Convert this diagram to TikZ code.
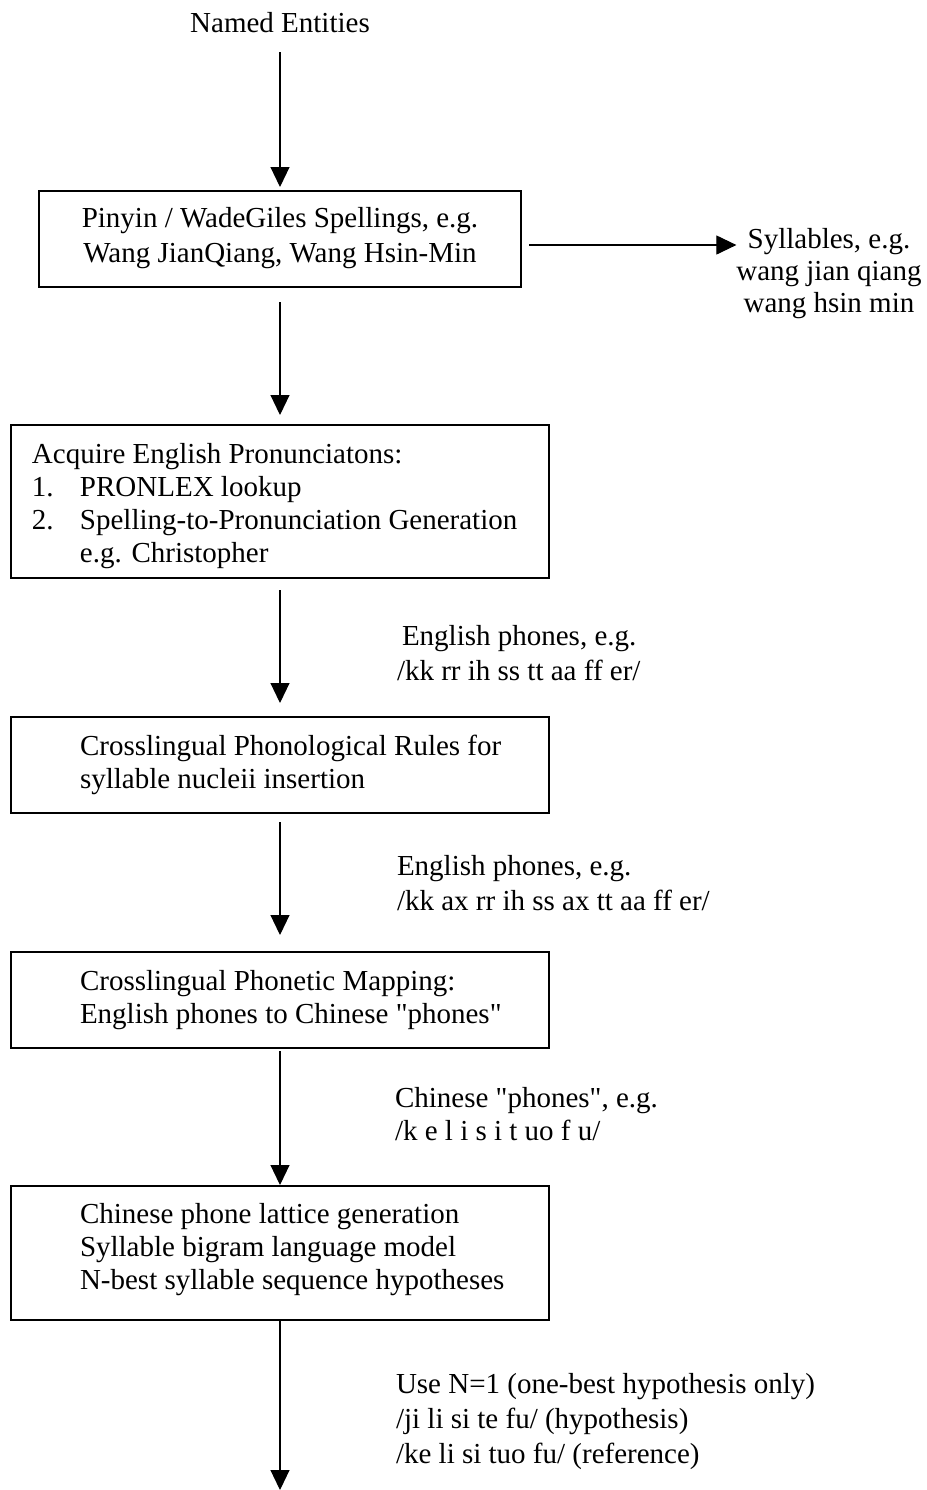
\documentclass[tikz,border=0pt]{standalone}
\usepackage{fontspec}
\setmainfont{Liberation Serif}
\usetikzlibrary{arrows.meta}
% one drawing unit = 0.5pt
\newdimen\pxu \pxu=0.5pt
\begin{document}
\begin{tikzpicture}[x=0.5pt,y=-0.5pt,
  every node/.style={inner sep=0pt, outer sep=0pt},
  stage/.style={draw, line width=0.75pt, minimum width=538\pxu, minimum height=96\pxu},
  txt/.style={anchor=base west, align=left, font=\fontsize{14.5pt}{16.5pt}\selectfont},
  ctxt/.style={anchor=base, align=center, font=\fontsize{14.5pt}{16.5pt}\selectfont},
  wide/.style={font=\fontsize{14.5pt}{17.5pt}\selectfont},
  flow/.style={-{Triangle[length=10pt,width=9.5pt]}, line width=0.55pt},
]
\useasboundingbox (0,0) rectangle (927,1490);

% title
\node[ctxt] (ne) at (280,32) {Named Entities};

% processing stages
\node[stage, minimum width=482\pxu] (b1) at (280,239) {};
\node[stage, minimum height=153\pxu] (b2) at (280,501.5) {};
\node[stage] (b3) at (280,765) {};
\node[stage] (b4) at (280,1000) {};
\node[stage, minimum height=134\pxu] (b5) at (280,1253) {};
\coordinate (out) at (280,1490);

% stage texts (each placed by the baseline of its last line)
\node[ctxt, wide] (t1) at (280,262)
  {Pinyin / WadeGiles Spellings, e.g.\\Wang JianQiang, Wang Hsin-Min};
\node[txt] (t2) at (32,562)
  {Acquire English Pronunciatons:\\
   \makebox[48\pxu][l]{1.}PRONLEX lookup\\
   \makebox[48\pxu][l]{2.}Spelling-to-Pronunciation Generation\\
   \hspace*{48\pxu}e.g. Christopher};
\node[txt] (t3) at (80,788)
  {Crosslingual Phonological Rules for\\syllable nucleii insertion};
\node[txt] (t4) at (80,1023)
  {Crosslingual Phonetic Mapping:\\English phones to Chinese \textquotedbl phones\textquotedbl};
\node[txt] (t5) at (80,1289)
  {Chinese phone lattice generation\\Syllable bigram language model\\N-best syllable sequence hypotheses};

% side output
\node[ctxt, font=\fontsize{14.5pt}{16pt}\selectfont] (syl) at (829,312)
  {Syllables, e.g.\\wang jian qiang\\wang hsin min};

% connector labels
\node[txt, wide] (l3) at (397,680)
  {\hspace*{5\pxu}English phones, e.g.\\/kk rr ih ss tt aa ff er/};
\node[txt, wide] (l4) at (397,910)
  {English phones, e.g.\\/kk ax rr ih ss ax tt aa ff er/};
\node[txt] (l5) at (395,1140)
  {Chinese \textquotedbl phones\textquotedbl, e.g.\\/k e l i s i t uo f u/};
\node[txt, wide] (l6) at (396,1463)
  {Use N=1 (one-best hypothesis only)\\/ji li si te fu/ (hypothesis)\\/ke li si tuo fu/ (reference)};

% connectors
\draw[flow, shorten <=20\pxu, shorten >=4\pxu] (ne.south) -- (b1.north);
\draw[flow, shorten <=15\pxu, shorten >=10\pxu] (b1.south) -- (b2.north);
\draw[flow, shorten <=12\pxu, shorten >=14\pxu] (b2.south) -- (b3.north);
\draw[flow, shorten <=9\pxu, shorten >=17\pxu] (b3.south) -- (b4.north);
\draw[flow, shorten <=3\pxu, shorten >=1\pxu] (b4.south) -- (b5.north);
\draw[flow] (b5.south) -- (out);
\draw[flow, shorten <=8\pxu] ([yshift=-3pt]b1.east) -- ([yshift=-3pt]b1.east -| syl.west);
\end{tikzpicture}
\end{document}
